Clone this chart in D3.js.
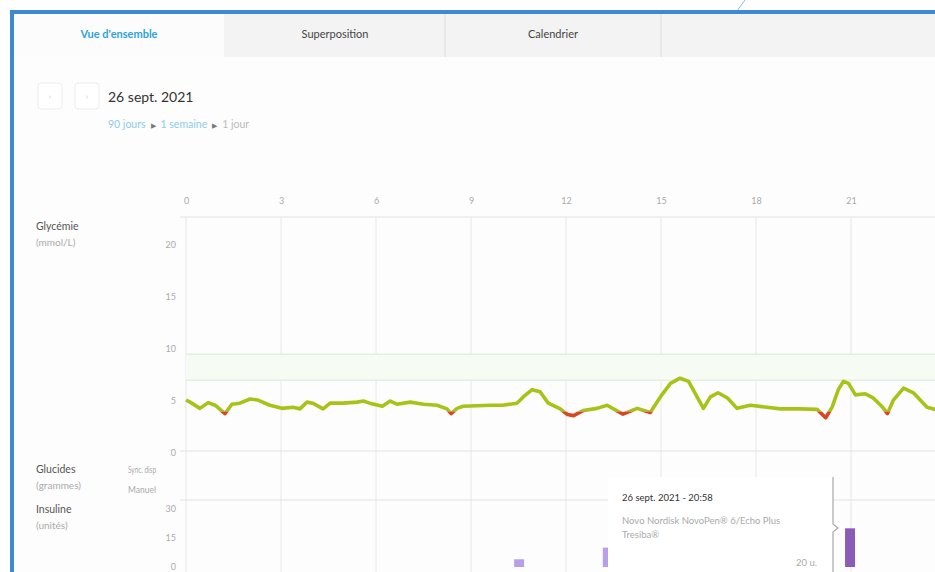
<!DOCTYPE html>
<html>
<head>
<meta charset="utf-8">
<script src="https://cdn.jsdelivr.net/npm/d3@7"></script>
<style>
  body { margin: 0; background: #fff; font-family: Lato, "Open Sans", sans-serif; }
  svg text { font-family: Lato, "Open Sans", sans-serif; }
</style>
</head>
<body>
<div id="chart"></div>
<script>
var tabs = ["Vue d'ensemble", "Superposition", "Calendrier"];
var hourTicks = [0, 3, 6, 9, 12, 15, 18, 21];
var glucoseTicks = [0, 5, 10, 15, 20];
var insulinTicks = [0, 15, 30];
var targetBand = [6.8, 9.3];
var lowLimit = 3.8;

var glucoseHours = [0, 0.13, 0.44, 0.7, 0.92, 1.23, 1.45, 1.7, 2.02, 2.27, 2.65, 3.03, 3.38, 3.6, 3.82, 4.0,
  4.33, 4.55, 4.96, 5.4, 5.6, 5.8, 6.2, 6.45, 6.66, 7.08, 7.5, 7.93, 8.24, 8.37, 8.56, 8.75, 9.2, 9.6,
  10.0, 10.45, 10.65, 10.93, 11.18, 11.44, 11.82, 12.05, 12.24, 12.55, 12.98, 13.3, 13.47, 13.8, 14.25,
  14.66, 14.98, 15.3, 15.6, 15.87, 16.14, 16.34, 16.56, 16.8, 17.1, 17.4, 17.82, 18.35, 18.77, 19.4,
  19.93, 20.2, 20.4, 20.6, 20.76, 20.92, 21.14, 21.45, 21.7, 22.0, 22.15, 22.34, 22.66, 22.97, 23.4,
  23.66, 23.9];
var glucoseValues = [4.9, 4.7, 4.1, 4.65, 4.4, 3.6, 4.5, 4.6, 5.0, 4.9, 4.4, 4.1, 4.2, 4.05, 4.7, 4.6,
  4.05, 4.6, 4.6, 4.7, 4.8, 4.6, 4.3, 4.8, 4.5, 4.7, 4.5, 4.4, 4.05, 3.6, 4.1, 4.3, 4.35, 4.4,
  4.4, 4.6, 5.2, 5.9, 5.7, 4.6, 4.05, 3.5, 3.4, 3.9, 4.1, 4.4, 4.1, 3.55, 4.1,
  3.7, 5.2, 6.5, 7.0, 6.7, 5.2, 4.1, 5.2, 5.6, 5.1, 4.1, 4.4, 4.2, 4.05, 4.05,
  4.0, 3.2, 4.2, 5.9, 6.7, 6.5, 5.4, 5.5, 5.1, 4.2, 3.6, 4.9, 6.05, 5.6, 4.2,
  4.0, 4.05];

var insulinHours = [10.52, 13.32, 20.97];
var insulinUnits = [4, 10, 20];
var insulinKind = ["bolus", "bolus", "selected"];

var W = 935, H = 572;
var svg = d3.select("#chart").append("svg").attr("width", W).attr("height", H);

// frame + tabs
svg.append("rect").attr("x", 10).attr("y", 13).attr("width", W).attr("height", H).attr("fill", "#fdfdfd");
svg.append("rect").attr("x", 14).attr("y", 14).attr("width", W).attr("height", 43).attr("fill", "#f3f3f3");
var tabX = [14, 226, 446], tabWidth = [210, 218, 214];
var tab = svg.selectAll(".tab").data(tabs).enter().append("g").attr("class", "tab")
  .attr("transform", function(d, i){ return "translate(" + tabX[i] + ",14)"; });
tab.append("rect").attr("width", (d, i) => tabWidth[i]).attr("height", 43)
  .attr("fill", function(d, i){ return i == 0 ? "#fcfcfc" : "#f3f3f3"; });
tab.filter(function(d, i){ return i > 0; }).append("line")
  .attr("x1", (d, i) => tabWidth[i + 1] + 1).attr("x2", (d, i) => tabWidth[i + 1] + 1).attr("y1", 0).attr("y2", 43)
  .attr("stroke", "#e4e4e4").attr("stroke-width", 1.5);
tab.append("text").attr("x", (d, i) => tabWidth[i] / 2).attr("y", 24).attr("text-anchor", "middle")
  .attr("font-size", 11)
  .attr("font-weight", function(d, i){ return i == 0 ? 700 : 400; })
  .attr("fill", function(d, i){ return i == 0 ? "#2ea3dc" : "#444"; })
  .text(function(d){ return d; });
svg.append("line").attr("x1", 745).attr("y1", 0).attr("x2", 737).attr("y2", 11)
  .attr("stroke", "#8ab8e4").attr("stroke-width", 1);
svg.append("rect").attr("x", 10).attr("y", 10).attr("width", W).attr("height", 4).attr("fill", "#3f88d2");
svg.append("rect").attr("x", 10).attr("y", 10).attr("width", 4).attr("height", H).attr("fill", "#3f88d2");

// date navigation
[38, 75].forEach(function(bx, i){
  svg.append("rect").attr("x", bx).attr("y", 83).attr("width", 24).attr("height", 26).attr("rx", 3)
    .attr("fill", "#fff").attr("stroke", "#ececec");
  svg.append("text").attr("x", bx + 12).attr("y", 99).attr("text-anchor", "middle")
    .attr("font-size", 7).attr("fill", "#bbb").text(i == 0 ? "‹" : "›");
});
svg.append("text").attr("x", 108).attr("y", 102).attr("font-size", 14).attr("fill", "#333").text("26 sept. 2021");
var crumb = svg.append("text").attr("x", 108).attr("y", 128).attr("font-size", 10.5);
crumb.append("tspan").attr("fill", "#8ccbea").text("90 jours");
crumb.append("tspan").attr("fill", "#777").attr("font-size", 7).attr("dx", 5).text("▶");
crumb.append("tspan").attr("fill", "#8ccbea").attr("dx", 5).text("1 semaine");
crumb.append("tspan").attr("fill", "#777").attr("font-size", 7).attr("dx", 5).text("▶");
crumb.append("tspan").attr("fill", "#bbb").attr("dx", 5).text("1 jour");

// scales
var x = d3.scaleLinear().domain([0, 24]).range([186, 946]);
var yG = d3.scaleLinear().domain([0, 22.5]).range([451, 217]);
var yI = d3.scaleLinear().domain([0, 30]).range([567, 509]);

var grid = svg.append("g");
grid.selectAll(".vg").data(hourTicks).enter().append("line")
  .attr("x1", d => x(d)).attr("x2", d => x(d)).attr("y1", 217).attr("y2", H)
  .attr("stroke", "#e8e8e8");
[217, yG(0), 500].forEach(function(yy){
  grid.append("line").attr("x1", 180).attr("x2", W).attr("y1", yy).attr("y2", yy).attr("stroke", "#e2e2e2");
});

svg.append("g").attr("transform", "translate(0,201)")
  .call(d3.axisTop(x).tickValues(hourTicks).tickSize(0).tickPadding(0))
  .call(g => g.select(".domain").remove())
  .call(g => g.selectAll("text").attr("fill", "#aaa").attr("font-size", 9).attr("dy", "0.35em"));

svg.append("g").attr("transform", "translate(176,2)")
  .call(d3.axisLeft(yG).tickValues(glucoseTicks).tickSize(0).tickPadding(0))
  .call(g => g.select(".domain").remove())
  .call(g => g.selectAll("text").attr("fill", "#aaa").attr("font-size", 9));

svg.append("g").attr("transform", "translate(176,0)")
  .call(d3.axisLeft(yI).tickValues(insulinTicks).tickSize(0).tickPadding(0))
  .call(g => g.select(".domain").remove())
  .call(g => g.selectAll("text").attr("fill", "#aaa").attr("font-size", 9));

// row labels
function rowLabel(t, sub, y){
  svg.append("text").attr("x", 36).attr("y", y).attr("font-size", 10.5).attr("fill", "#555").text(t);
  svg.append("text").attr("x", 36).attr("y", y + 16).attr("font-size", 10).attr("fill", "#aaa").text(sub);
}
rowLabel("Glycémie", "(mmol/L)", 230);
rowLabel("Glucides", "(grammes)", 473);
rowLabel("Insuline", "(unités)", 513);
svg.append("text").attr("x", 128).attr("y", 473).attr("font-size", 8.5).attr("fill", "#aaa")
  .attr("textLength", 28).attr("lengthAdjust", "spacingAndGlyphs").text("Sync. disp");
svg.append("text").attr("x", 128).attr("y", 493).attr("font-size", 8.5).attr("fill", "#aaa").text("Manuel");

// target band
svg.append("rect").attr("x", 186).attr("width", W - 186)
  .attr("y", yG(targetBand[1])).attr("height", yG(targetBand[0]) - yG(targetBand[1]))
  .attr("fill", "#f6fbf4");
targetBand.forEach(function(v){
  svg.append("line").attr("x1", 186).attr("x2", W).attr("y1", yG(v)).attr("y2", yG(v))
    .attr("stroke", "#e0f1df").attr("stroke-width", 1.5);
});

// glucose trace, red under the low limit
var pts = glucoseHours.map((h, i) => [h, glucoseValues[i]]);
var line = d3.line().x(d => x(d[0])).y(d => yG(d[1]));
var defs = svg.append("defs");
defs.append("clipPath").attr("id", "inRange").append("rect")
  .attr("x", 0).attr("y", 0).attr("width", W).attr("height", yG(lowLimit));
defs.append("clipPath").attr("id", "low").append("rect")
  .attr("x", 0).attr("y", yG(lowLimit)).attr("width", W).attr("height", 60);
svg.append("path").datum(pts).attr("d", line).attr("fill", "none")
  .attr("stroke", "#a6c418").attr("stroke-width", 3.6).attr("stroke-linejoin", "round")
  .attr("clip-path", "url(#inRange)");
svg.append("path").datum(pts).attr("d", line).attr("fill", "none")
  .attr("stroke", "#d8471f").attr("stroke-width", 3.6).attr("stroke-linejoin", "round")
  .attr("clip-path", "url(#low)");

// insulin bars
svg.selectAll(".ins").data(insulinHours).enter().append("rect")
  .attr("x", d => x(d) - 5).attr("width", 10)
  .attr("y", (d, i) => yI(insulinUnits[i])).attr("height", (d, i) => yI(0) - yI(insulinUnits[i]))
  .attr("fill", (d, i) => insulinKind[i] == "selected" ? "#8a5cb8" : "#b8a0e8");

// tooltip
var tip = svg.append("g");
tip.append("rect").attr("x", 608).attr("y", 477).attr("width", 225).attr("height", 110).attr("fill", "#fff");
tip.append("path").attr("d", "M833,477 V524 l5,4 l-5,4 V" + H).attr("fill", "#fff")
  .attr("stroke", "#a8a8a8").attr("stroke-width", 1.2);
tip.append("text").attr("x", 622).attr("y", 501).attr("font-size", 9.5).attr("fill", "#333").text("26 sept. 2021 - 20:58");
tip.append("text").attr("x", 622).attr("y", 524).attr("font-size", 9.5).attr("fill", "#aaa").text("Novo Nordisk NovoPen® 6/Echo Plus");
tip.append("text").attr("x", 622).attr("y", 538).attr("font-size", 9.5).attr("fill", "#aaa").text("Tresiba®");
tip.append("text").attr("x", 817).attr("y", 566).attr("text-anchor", "end").attr("font-size", 9.5).attr("fill", "#aaa").text(insulinUnits[2] + " u.");
</script>
</body>
</html>
